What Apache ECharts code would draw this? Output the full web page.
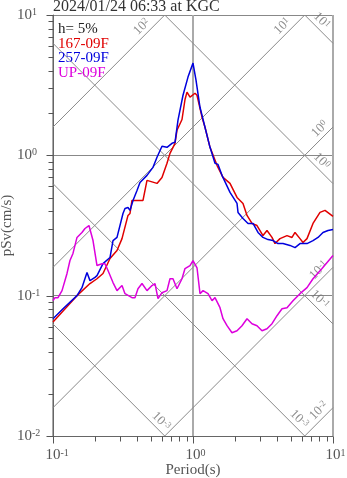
<!DOCTYPE html>
<html><head><meta charset="utf-8">
<script src="https://cdn.jsdelivr.net/npm/echarts@6/dist/echarts.min.js"></script>
<style>html,body{margin:0;padding:0;background:#fff}#c{width:347px;height:478px}</style>
</head><body><div id="c"></div>
<script>
// ---------- data ----------
const titleText = '2024/01/24 06:33 at KGC';
const dampingText = 'h= 5%';
const seriesNames = ['167-09F', '257-09F', 'UP-09F'];
const seriesColors = ['#e00000', '#0000dd', '#dd00dd'];
const xAxisName = 'Period(s)';
const yAxisName = 'pSv(cm/s)';

const redT = [0.1, 0.1484, 0.1837, 0.2062, 0.2276, 0.2553, 0.2865, 0.3111, 0.3433, 0.3548, 0.3666, 0.4394, 0.4692, 0.5532, 0.6004, 0.652, 0.6849, 0.7437, 0.7686, 0.8344, 0.8768, 0.9061, 0.9519, 1.0335, 1.068, 1.16, 1.218, 1.323, 1.484, 1.638, 1.838, 2.063, 2.276, 2.431, 2.639, 2.865, 3.162, 3.377, 3.667, 3.852, 4.182, 4.693, 5.095, 5.354, 5.811, 6.105, 6.521, 7.197, 8.075, 8.769, 10];
const redSv = [0.065, 0.1, 0.122, 0.132, 0.144, 0.184, 0.21, 0.255, 0.373, 0.385, 0.477, 0.477, 0.663, 0.631, 0.696, 0.877, 1.033, 1.218, 1.51, 1.8, 2.5, 2.82, 2.6, 2.77, 2.68, 1.87, 1.585, 1.14, 0.849, 0.696, 0.631, 0.501, 0.454, 0.373, 0.327, 0.316, 0.268, 0.291, 0.26, 0.235, 0.255, 0.268, 0.26, 0.282, 0.255, 0.239, 0.255, 0.327, 0.392, 0.405, 0.367];

const blueT = [0.1, 0.1179, 0.1484, 0.161, 0.1749, 0.1837, 0.1995, 0.2062, 0.2276, 0.2553, 0.2683, 0.2865, 0.3162, 0.3268, 0.3433, 0.3548, 0.3728, 0.3981, 0.4181, 0.4692, 0.5179, 0.5532, 0.6004, 0.652, 0.7079, 0.7437, 0.7814, 0.8483, 0.921, 1.0, 1.0506, 1.122, 1.218, 1.323, 1.436, 1.509, 1.611, 1.838, 2.063, 2.097, 2.276, 2.472, 2.683, 2.913, 3.162, 3.433, 3.728, 4.047, 4.394, 4.931, 5.354, 5.811, 6.521, 7.197, 7.815, 8.483, 9.21, 10];
const blueSv = [0.0685, 0.0807, 0.1, 0.114, 0.146, 0.128, 0.135, 0.139, 0.169, 0.187, 0.247, 0.26, 0.385, 0.418, 0.425, 0.405, 0.477, 0.562, 0.641, 0.72, 0.821, 0.968, 1.16, 1.14, 1.218, 1.238, 1.78, 2.68, 3.61, 4.54, 3.43, 2.2, 1.585, 1.14, 0.877, 0.862, 0.72, 0.544, 0.454, 0.392, 0.355, 0.327, 0.327, 0.282, 0.26, 0.251, 0.247, 0.235, 0.235, 0.228, 0.22, 0.235, 0.235, 0.247, 0.26, 0.282, 0.291, 0.296];

const magT = [0.1, 0.1033, 0.1086, 0.116, 0.1259, 0.1322, 0.1389, 0.1484, 0.161, 0.1693, 0.1807, 0.1931, 0.2062, 0.2239, 0.2352, 0.2471, 0.2683, 0.2865, 0.3111, 0.3268, 0.3666, 0.3851, 0.4046, 0.4322, 0.4692, 0.5094, 0.5354, 0.5623, 0.6004, 0.652, 0.6849, 0.7197, 0.7686, 0.8344, 0.8768, 0.9519, 1.0, 1.068, 1.122, 1.179, 1.28, 1.367, 1.436, 1.559, 1.638, 1.75, 1.899, 2.063, 2.239, 2.431, 2.639, 2.865, 3.111, 3.377, 3.667, 3.981, 4.322, 4.693, 5.179, 5.811, 6.521, 7.197, 8.347, 10];
const magSv = [0.0921, 0.0968, 0.0968, 0.1086, 0.144, 0.178, 0.2, 0.26, 0.282, 0.301, 0.316, 0.247, 0.164, 0.169, 0.169, 0.151, 0.124, 0.1086, 0.118, 0.1033, 0.0968, 0.0968, 0.112, 0.122, 0.1086, 0.118, 0.122, 0.0952, 0.105, 0.1086, 0.132, 0.132, 0.112, 0.132, 0.156, 0.164, 0.178, 0.158, 0.1033, 0.1086, 0.1033, 0.0921, 0.0968, 0.0821, 0.0685, 0.0611, 0.0544, 0.0562, 0.0611, 0.0685, 0.0631, 0.0611, 0.0562, 0.0581, 0.0631, 0.072, 0.0807, 0.0821, 0.0921, 0.1033, 0.114, 0.132, 0.156, 0.193];

// axis ranges and decade tick exponents
const xRange = [0.1, 10];
const yRange = [0.01, 10];
const xDecadeExps = [-1, 0, 1];
const yDecadeExps = [-2, -1, 0, 1];
const minorMultipliers = [2, 3, 4, 5, 6, 7, 8, 9];

// tripartite guide lines: pseudo-acceleration (gal) and displacement (cm)
const accLevels = [0.01, 0.1, 1, 10, 100];
const dispLevels = [0.001, 0.01, 0.1, 1, 10];
// guide labels: kind, level, text exponent, anchor period
const guideLabelKind = ['a', 'a', 'd', 'a', 'd', 'a', 'd', 'd', 'd', 'a'];
const guideLabelLevel = [100, 10, 10, 1, 1, 0.1, 0.1, 0.001, 0.01, 0.01];
const guideLabelExp = ['2', '1', '1', '0', '0', '-1', '-1', '-3', '-3', '-2'];
const guideLabelT = [0.473, 4.77, 7.56, 8.84, 7.56, 8.69, 7.32, 0.540, 5.22, 8.69];

// ---------- build ----------
const SERIF = '"Liberation Serif","DejaVu Serif",serif';
const TWO_PI = 2 * Math.PI;
const zip = (a, b) => a.map((v, i) => [v, b[i]]);

function accLine(sa) {
  const t0 = Math.max(xRange[0], TWO_PI * yRange[0] / sa);
  const t1 = Math.min(xRange[1], TWO_PI * yRange[1] / sa);
  return [[t0, sa * t0 / TWO_PI], [t1, sa * t1 / TWO_PI]];
}
function dispLine(sd) {
  const t0 = Math.max(xRange[0], TWO_PI * sd / yRange[1]);
  const t1 = Math.min(xRange[1], TWO_PI * sd / yRange[0]);
  return [[t0, TWO_PI * sd / t0], [t1, TWO_PI * sd / t1]];
}

const guideSeries = [];
accLevels.forEach(a => guideSeries.push(accLine(a)));
dispLevels.forEach(d => guideSeries.push(dispLine(d)));

const guideRich = {
  b: {fontFamily: SERIF, fontSize: 13, color: '#707070'},
  s: {fontFamily: SERIF, fontSize: 9, color: '#707070', verticalAlign: 'top'}
};
const guideLabelData = guideLabelKind.map((k, i) => {
  const t = guideLabelT[i], lv = guideLabelLevel[i];
  const sv = k === 'a' ? lv * t / TWO_PI : TWO_PI * lv / t;
  return {
    value: [t, sv],
    label: {show: true, position: 'inside', offset: [0, -8], rotate: k === 'a' ? 45 : -45,
      formatter: '{b|10}{s|' + guideLabelExp[i] + '}', rich: guideRich}
  };
});

const yTickData = [], xTickData = [];
yDecadeExps.forEach(e => {
  yTickData.push([xRange[0], Math.pow(10, e), 1]);
  if (e < yDecadeExps[yDecadeExps.length - 1]) minorMultipliers.forEach(m => yTickData.push([xRange[0], m * Math.pow(10, e), 0]));
});
xDecadeExps.forEach(e => {
  xTickData.push([Math.pow(10, e), yRange[0], 1]);
  if (e < xDecadeExps[xDecadeExps.length - 1]) minorMultipliers.forEach(m => xTickData.push([m * Math.pow(10, e), yRange[0], 0]));
});

const axisGray = '#555';
const labelRich = {
  b: {fontFamily: SERIF, fontSize: 15, color: axisGray},
  s: {fontFamily: SERIF, fontSize: 10, color: axisGray, verticalAlign: 'top'},
  h: {fontFamily: SERIF, fontSize: 10, color: 'transparent', verticalAlign: 'top'}
};
const expOf = v => String(Math.round(Math.log10(v)));

const series = [];
guideSeries.forEach(d => series.push({
  type: 'line', data: d, silent: true, showSymbol: false, symbol: 'none', z: 1,
  lineStyle: {color: '#8a8a8a', width: 1}
}));
series.push({
  type: 'scatter', data: guideLabelData, symbolSize: 0, silent: true, z: 2,
  label: {show: true, position: 'inside', rich: guideRich}
});
const curves = [zip(redT, redSv), zip(blueT, blueSv), zip(magT, magSv)];
curves.forEach((d, i) => series.push({
  name: seriesNames[i], type: 'line', data: d, showSymbol: false, symbol: 'none', z: 5,
  lineStyle: {color: seriesColors[i], width: 1.5}
}));
const tickRender = (vertical) => (params, api) => {
  const p = api.coord([api.value(0), api.value(1)]);
  const len = api.value(2) ? 7 : 5;
  if (vertical) {
    const y = Math.round(p[1]) + 0.5, x = Math.round(p[0]) + 0.5;
    return {type: 'line', shape: {x1: x - len, y1: y, x2: x, y2: y}, style: {stroke: axisGray, lineWidth: 1}};
  }
  const x = Math.round(p[0]) + 0.5, y = Math.round(p[1]) + 0.5;
  return {type: 'line', shape: {x1: x, y1: y, x2: x, y2: y + len}, style: {stroke: axisGray, lineWidth: 1}};
};
series.push({type: 'custom', coordinateSystem: 'cartesian2d', data: yTickData, silent: true, clip: false, z: 6, renderItem: tickRender(true)});
series.push({type: 'custom', coordinateSystem: 'cartesian2d', data: xTickData, silent: true, clip: false, z: 6, renderItem: tickRender(false)});

const legendLines = [dampingText].concat(seriesNames);
const legendColors = ['#222'].concat(seriesColors);
const graphic = [{
  type: 'text', x: 53, y: 7, z: 10,
  style: {text: titleText, font: '16px ' + SERIF, fill: '#333', verticalAlign: 'middle'}
}];
legendLines.forEach((t, i) => graphic.push({
  type: 'text', x: 58, y: 29 + i * 14.7, z: 10,
  style: {text: t, font: '15px ' + SERIF, fill: legendColors[i], verticalAlign: 'middle'}
}));

const chart = echarts.init(document.getElementById('c'), null, {renderer: 'canvas'});
chart.setOption({
  animation: false,
  backgroundColor: '#fff',
  grid: {left: 53, right: 14, top: 15, bottom: 42, containLabel: false, outerBoundsMode: 'none'},
  xAxis: {
    type: 'log', logBase: 10, min: xRange[0], max: xRange[1],
    name: xAxisName, nameLocation: 'middle', nameGap: 27, nameMoveOverlap: false,
    nameTextStyle: {fontFamily: SERIF, fontSize: 15, color: axisGray},
    axisLine: {show: true, lineStyle: {color: '#666', width: 1}},
    axisTick: {show: false},
    axisLabel: {margin: 12, formatter: v => '{h|' + expOf(v) + '}{b|10}{s|' + expOf(v) + '}', rich: labelRich},
    splitLine: {show: true, lineStyle: {color: '#aaa', width: 2}}
  },
  yAxis: {
    type: 'log', logBase: 10, min: yRange[0], max: yRange[1],
    name: yAxisName, nameLocation: 'middle', nameGap: 38, nameRotate: 90, nameMoveOverlap: false,
    nameTextStyle: {fontFamily: SERIF, fontSize: 15, color: axisGray},
    axisLine: {show: true, lineStyle: {color: '#666', width: 1}},
    axisTick: {show: false},
    axisLabel: {margin: 36, align: 'left', formatter: v => '{b|10}{s|' + expOf(v) + '}', rich: labelRich},
    splitLine: {show: true, lineStyle: {color: '#888', width: 1}}
  },
  graphic: graphic,
  series: series
});
</script></body></html>
